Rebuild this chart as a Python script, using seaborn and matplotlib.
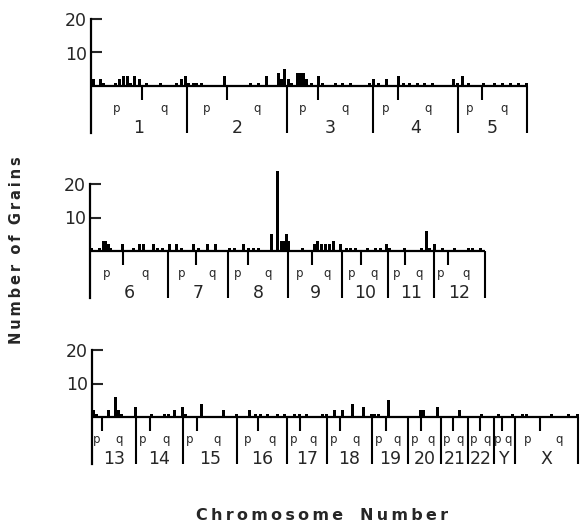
import numpy as np
import pandas as pd
import matplotlib
matplotlib.use("Agg")
import matplotlib.pyplot as plt
import seaborn as sns

# ---------------- data ----------------
# chromosome names, lengths and p-arm lengths (relative length units)
chrom_1 = ["1", "2", "3", "4", "5"]
len_1 = [96, 100, 86, 85, 69]
parm_1 = [51, 40, 31, 25, 24]

chrom_2 = ["6", "7", "8", "9", "10", "11", "12"]
len_2 = [78, 60, 60, 54, 46, 46, 51]
parm_2 = [33, 28, 20, 24, 19, 17, 14]

chrom_3 = ["13", "14", "15", "16", "17", "18", "19", "20", "21", "22", "Y", "X"]
len_3 = [44, 47, 54, 50, 40, 45, 36, 33, 27, 26, 21, 63]
parm_3 = [10, 14, 14, 21, 13, 13, 14, 13, 12, 12, 8, 25]

# grain positions along each row (relative length units) and grain counts
pos_1 = [2, 9, 12, 24, 28, 32, 36, 39, 43, 48, 55, 69, 85, 90, 94, 97, 102, 105, 110,
         133, 159, 167, 175, 187, 190, 193, 197, 200, 206, 209, 212, 215, 220, 227, 231,
         244, 251, 259, 278, 282, 287, 295, 307, 312, 318, 326, 333, 341, 362, 366, 371,
         377, 392, 403, 411, 419, 427, 435]
cnt_1 = [2, 2, 1, 1, 2, 3, 3, 1, 3, 2, 1, 1, 1, 2, 3, 1, 1, 1, 1,
         3, 1, 1, 3, 4, 2, 5, 2, 1, 4, 4, 4, 2, 1, 3, 1,
         1, 1, 1, 1, 2, 1, 2, 3, 1, 1, 1, 1, 1, 2, 1, 3,
         1, 1, 1, 1, 1, 1, 1]

pos_2 = [1, 9, 13, 15, 18, 20, 32, 43, 49, 53, 63, 67, 72, 79, 86, 91, 103, 108, 117,
         125, 139, 144, 153, 158, 163, 168, 181, 187, 191, 193, 196, 198, 212, 224, 227,
         231, 235, 239, 243, 250, 256, 260, 265, 277, 285, 290, 296, 299, 314, 331, 336,
         339, 344, 352, 364, 378, 382, 390]
cnt_2 = [1, 1, 3, 3, 2, 1, 2, 1, 2, 2, 2, 1, 1, 2, 2, 1, 2, 1, 2,
         2, 1, 1, 2, 1, 1, 1, 5, 24, 3, 3, 5, 3, 1, 2, 3,
         2, 2, 2, 3, 2, 1, 1, 1, 1, 1, 1, 2, 1, 1, 1, 6,
         1, 2, 1, 1, 1, 1, 1]

pos_3 = [1, 4, 16, 23, 26, 29, 43, 59, 72, 76, 82, 90, 93, 109, 131, 144, 157, 163,
         168, 175, 185, 192, 202, 207, 214, 230, 234, 242, 250, 260, 271, 279, 282,
         286, 296, 328, 331, 345, 367, 389, 406, 420, 430, 434, 459, 476, 485]
cnt_3 = [2, 1, 2, 6, 2, 1, 3, 1, 1, 1, 2, 3, 1, 4, 2, 1, 2, 1,
         1, 1, 1, 1, 1, 1, 1, 1, 1, 2, 2, 4, 3, 1, 1,
         1, 5, 2, 2, 3, 2, 1, 1, 1, 1, 1, 1, 1, 1]

y_ticks = [10, 20]

# ---------------- style ----------------
sns.set_style("white")
plt.rcParams["font.family"] = ["DejaVu Sans"]

W, H = 580, 527
fig = plt.figure(figsize=(W / 100, H / 100), dpi=100)

S = 3.35          # pixels per grain
YBOT, YTOP = -16, 27
BOUND = -14.0     # depth of chromosome boundary lines
CEN = -4.2        # depth of centromere ticks
PQ_Y = -6.6
NUM_Y = -12.4


def panel(left_px, base_px, names, lens, parms, pos, cnt):
    total = float(sum(lens))
    bottom_px = base_px + (-YBOT) * S
    height_px = (YTOP - YBOT) * S
    ax = fig.add_axes([left_px / W, 1 - bottom_px / H, (total + 2) / W, height_px / H])
    df = pd.DataFrame({"pos": pos, "grains": cnt})
    mind = np.min(np.diff(np.sort(df["pos"].values)))
    sns.barplot(data=df, x="pos", y="grains", native_scale=True, width=3.0 / mind,
                color="black", saturation=1, errorbar=None, linewidth=0, ax=ax)
    ax.set_xlim(0, total + 2)
    ax.set_ylim(YBOT, YTOP)
    ax.set_xlabel("")
    ax.set_ylabel("")
    ax.set_xticks([])
    ax.set_yticks(y_ticks)
    ax.set_yticklabels([str(t) for t in y_ticks])
    ax.tick_params(axis="y", direction="in", length=8, width=1.5, labelsize=12.5,
                   pad=3, left=True)
    for sp in ["top", "right", "bottom"]:
        ax.spines[sp].set_visible(False)
    ax.spines["left"].set_bounds(BOUND, 20)
    ax.spines["left"].set_linewidth(1.6)
    ax.spines["left"].set_color("black")
    ax.patch.set_alpha(0)

    ax.plot([0, total], [0, 0], color="black", lw=1.6, solid_capstyle="butt", zorder=3)
    bounds = np.concatenate([[0], np.cumsum(lens)])
    for b in bounds[1:]:
        ax.plot([b, b], [0, BOUND], color="black", lw=1.5, solid_capstyle="butt")
    for start, L, p, name in zip(bounds[:-1], lens, parms, names):
        c = start + p
        ax.plot([c, c], [0, CEN], color="black", lw=1.5, solid_capstyle="butt")
        ax.text(start + p / 2, PQ_Y, "p", ha="center", va="center", fontsize=8.5)
        ax.text(c + (L - p) / 2, PQ_Y, "q", ha="center", va="center", fontsize=8.5)
        ax.text(start + L / 2, NUM_Y, name, ha="center", va="center", fontsize=12.5)
    return ax


panel(91, 86, chrom_1, len_1, parm_1, pos_1, cnt_1)
panel(90, 251, chrom_2, len_2, parm_2, pos_2, cnt_2)
panel(92, 417, chrom_3, len_3, parm_3, pos_3, cnt_3)


def spaced(s, gap="  "):
    return gap.join("\u2009".join(w) for w in s.split(" "))


fig.text(17 / W, 1 - 250 / H, spaced("Number of Grains"), rotation=90,
         ha="center", va="center", fontsize=10.5, fontweight="bold")
fig.text(322 / W, 1 - 515 / H, spaced("Chromosome Number", "   "),
         ha="center", va="center", fontsize=11.5, fontweight="bold")

fig.savefig("out.png", dpi=100)
